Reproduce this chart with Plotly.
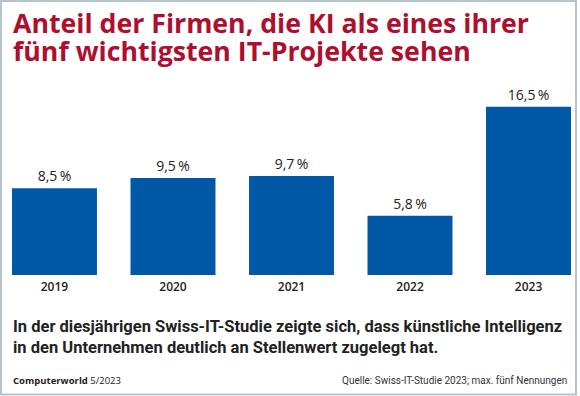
import plotly.graph_objects as go

years = ["2019", "2020", "2021", "2022", "2023"]
values = [8.5, 9.5, 9.7, 5.8, 16.5]
title_lines = ["Anteil der Firmen, die KI als eines ihrer",
               "fünf wichtigsten IT-Projekte sehen"]
subtitle_lines = ["In der diesjährigen Swiss-IT-Studie zeigte sich, dass künstliche Intelligenz",
                  "in den Unternehmen deutlich an Stellenwert zugelegt hat."]
source_text = "Quelle: Swiss-IT-Studie 2023; max. fünf Nennungen"
brand_text = "<b>Computerworld</b> 5/2023"

labels = [f"{v:.1f}".replace(".", ",") + "\u2009%" for v in values]

W, H = 580, 396
ML, MR, MT, MB = 12, 9, 95, 121
PW, PH = W - ML - MR, H - MT - MB
PX_PER_UNIT = 10.2

def px(x):
    return (x - ML) / PW

def py(y):
    return (H - MB - y) / PH

BAR = "#0058A6"
RED = "#AE0F2E"
DARK = "#222222"

fig = go.Figure(go.Bar(
    x=years, y=values, marker=dict(color=BAR, line=dict(width=0)),
    text=labels, textposition="outside", cliponaxis=False,
    textfont=dict(family="Open Sans", size=14, color=DARK),
    width=0.717, hoverinfo="skip",
))

half = 0.717 / 2
fig.update_layout(
    width=W, height=H,
    margin=dict(l=ML, r=MR, t=MT, b=MB),
    paper_bgcolor="white", plot_bgcolor="white",
    showlegend=False,
    xaxis=dict(type="category", range=[-half, 4 + half], showgrid=False,
               showline=False, zeroline=False, ticks="",
               ticklabelstandoff=3,
               tickfont=dict(family="Open Sans", size=12, color=DARK, weight=600)),
    yaxis=dict(range=[0, PH / PX_PER_UNIT], visible=False, showgrid=False, zeroline=False),
)

ann = []
for line, yc in zip(title_lines, [22.5, 50.5]):
    ann.append(dict(text=line, x=px(11), y=py(yc), xref="paper", yref="paper",
                    xanchor="left", yanchor="middle", showarrow=False,
                    font=dict(family="Open Sans", size=26.7, color=RED, weight=700)))
for line, yc in zip(subtitle_lines, [326, 347]):
    ann.append(dict(text=line, x=px(11), y=py(yc), xref="paper", yref="paper",
                    xanchor="left", yanchor="middle", showarrow=False,
                    font=dict(family="Roboto", size=16.5, color=DARK, weight=700)))
ann.append(dict(text=brand_text, x=px(11), y=py(380.5), xref="paper", yref="paper",
                xanchor="left", yanchor="middle", showarrow=False,
                font=dict(family="Open Sans", size=9.5, color=DARK)))
ann.append(dict(text=source_text, x=px(569), y=py(380.5), xref="paper", yref="paper",
                xanchor="right", yanchor="middle", showarrow=False,
                font=dict(family="Roboto", size=10, color="#333333")))
fig.update_layout(annotations=ann)

fig.add_shape(type="rect", xref="paper", yref="paper",
              x0=px(1), x1=px(576), y0=py(394.5), y1=py(1),
              line=dict(color="#B7C3CC", width=2), fillcolor="rgba(0,0,0,0)", layer="above")

fig.write_html("out.html", config={"displayModeBar": False},
               post_script="document.body.style.margin='0';")
